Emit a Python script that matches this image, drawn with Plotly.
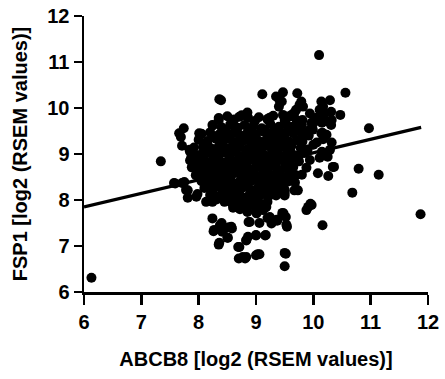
import plotly.graph_objects as go

# ---- dense core of the cloud (rows) ----
core_x = [
    8.35, 8.50, 8.62, 8.75, 8.86, 8.98, 9.05, 9.20, 9.30,
    8.25, 8.40, 8.55, 8.68, 8.80, 8.95, 9.10, 9.25, 9.40, 9.55, 9.70,
    8.05, 8.20, 8.35, 8.48, 8.60, 8.72, 8.85, 9.00, 9.12, 9.25, 9.38, 9.52, 9.65, 9.80,
    8.00, 8.15, 8.30, 8.42, 8.55, 8.68, 8.80, 8.92, 9.05, 9.18, 9.30, 9.45, 9.58, 9.72,
    7.92, 8.08, 8.22, 8.35, 8.48, 8.60, 8.72, 8.85, 8.98, 9.10, 9.22, 9.35, 9.48, 9.62, 9.78,
    7.90, 8.02, 8.15, 8.28, 8.40, 8.52, 8.65, 8.78, 8.90, 9.02, 9.15, 9.28, 9.40, 9.55, 9.70, 9.85,
    7.85, 7.98, 8.10, 8.22, 8.35, 8.47, 8.60, 8.72, 8.85, 8.97, 9.10, 9.22, 9.35, 9.48, 9.60, 9.75,
    7.88, 8.00, 8.12, 8.25, 8.38, 8.50, 8.63, 8.75, 8.88, 9.00, 9.12, 9.25, 9.38, 9.50, 9.65,
    7.95, 8.08, 8.20, 8.32, 8.45, 8.58, 8.70, 8.82, 8.95, 9.08, 9.20, 9.32, 9.45, 9.58, 9.70,
    8.05, 8.18, 8.30, 8.42, 8.55, 8.68, 8.80, 8.92, 9.05, 9.18, 9.30, 9.42, 9.55, 9.68,
    8.10, 8.25, 8.38, 8.50, 8.62, 8.75, 8.88, 9.00, 9.12, 9.25, 9.38, 9.50,
    8.20, 8.35, 8.48, 8.60, 8.72, 8.85, 8.98, 9.10, 9.22, 9.35,
    8.45, 8.58, 8.70, 8.82, 8.95, 9.08, 9.20,
    8.60, 8.72, 8.85, 9.00, 9.15,
]
core_y = [
    9.78, 9.82, 9.75, 9.84, 9.79, 9.72, 9.80, 9.76, 9.83,
    9.62, 9.58, 9.64, 9.57, 9.63, 9.60, 9.56, 9.65, 9.59, 9.61, 9.55,
    9.44, 9.47, 9.42, 9.48, 9.45, 9.41, 9.46, 9.43, 9.49, 9.44, 9.42, 9.47, 9.45, 9.43,
    9.31, 9.28, 9.33, 9.29, 9.32, 9.27, 9.30, 9.34, 9.28, 9.31, 9.29, 9.33, 9.27, 9.30,
    9.14, 9.17, 9.12, 9.16, 9.13, 9.18, 9.15, 9.11, 9.16, 9.14, 9.17, 9.12, 9.15, 9.18, 9.13,
    9.01, 8.98, 9.03, 8.97, 9.02, 8.99, 9.04, 8.96, 9.01, 9.03, 8.98, 9.02, 8.99, 9.01, 8.97, 9.02,
    8.86, 8.83, 8.87, 8.84, 8.88, 8.82, 8.85, 8.87, 8.83, 8.86, 8.84, 8.88, 8.82, 8.85, 8.87, 8.84,
    8.71, 8.68, 8.72, 8.69, 8.73, 8.67, 8.70, 8.72, 8.68, 8.71, 8.69, 8.73, 8.67, 8.70, 8.72,
    8.54, 8.57, 8.53, 8.56, 8.52, 8.55, 8.58, 8.54, 8.56, 8.53, 8.57, 8.55, 8.52, 8.56, 8.54,
    8.41, 8.38, 8.42, 8.39, 8.43, 8.37, 8.40, 8.42, 8.38, 8.41, 8.39, 8.43, 8.40, 8.38,
    8.26, 8.23, 8.27, 8.24, 8.22, 8.26, 8.25, 8.23, 8.27, 8.24, 8.26, 8.22,
    8.11, 8.08, 8.12, 8.09, 8.11, 8.07, 8.10, 8.12, 8.08, 8.10,
    7.96, 7.93, 7.97, 7.94, 7.95, 7.92, 7.96,
    7.83, 7.80, 7.84, 7.81, 7.82,
]

# ---- extra points filling the gaps inside the core ----
fill_x = [
    8.42, 8.66, 8.90, 9.15, 9.32,
    8.25, 8.48, 8.74, 8.98, 9.24, 9.50,
    8.15, 8.41, 8.66, 8.92, 9.16, 9.42,
    8.09, 8.34, 8.58, 8.84, 9.08, 9.34, 9.60,
    8.04, 8.28, 8.54, 8.79, 9.04, 9.29, 9.54,
    8.06, 8.31, 8.56, 8.81, 9.06, 9.31, 9.56,
    8.14, 8.39, 8.64, 8.89, 9.14, 9.39, 9.62,
    8.24, 8.49, 8.74, 8.99, 9.24, 9.49,
    8.31, 8.56, 8.81, 9.06, 9.31,
    8.42, 8.66, 8.92, 9.16,
    8.52, 8.78, 9.02,
]
fill_y = [
    9.52, 9.53, 9.51, 9.52, 9.54,
    9.37, 9.38, 9.36, 9.37, 9.38, 9.36,
    9.22, 9.23, 9.21, 9.22, 9.23, 9.21,
    9.07, 9.08, 9.06, 9.07, 9.08, 9.06, 9.07,
    8.92, 8.93, 8.91, 8.92, 8.93, 8.91, 8.92,
    8.77, 8.78, 8.76, 8.77, 8.78, 8.76, 8.77,
    8.62, 8.63, 8.61, 8.62, 8.63, 8.61, 8.62,
    8.47, 8.48, 8.46, 8.47, 8.48, 8.46,
    8.32, 8.33, 8.31, 8.32, 8.33,
    8.17, 8.18, 8.16, 8.17,
    8.02, 8.03, 8.01,
]

# ---- scattered points around the core ----
outer_x = [
    6.13, 7.34, 11.87, 11.14, 10.97, 10.79, 10.68, 10.10, 10.56, 10.47,
    10.16, 10.08, 10.26, 10.36, 9.95, 9.91, 9.88, 9.50, 9.52, 9.48,
    9.52, 9.54, 9.03, 9.06, 8.70, 8.81, 8.69, 8.83, 8.86, 9.00,
    9.16, 8.35, 8.51, 8.26, 8.37, 8.43, 8.58, 8.24, 8.87, 9.06,
    9.27, 9.37, 9.24, 9.12, 9.01, 9.50, 9.67, 9.73, 8.13, 8.24,
    8.31, 7.81, 7.81, 7.98, 7.59, 7.75, 7.71, 7.69, 7.66, 7.74,
    8.01, 7.85, 8.36, 8.39, 8.24, 8.35, 9.11, 9.35, 9.47, 9.41,
    9.40, 9.72, 9.79, 9.82, 10.14, 10.17, 10.29, 10.14, 10.20, 10.11,
    10.31, 10.26, 10.31, 10.14, 10.23, 10.17, 9.94, 10.00, 9.94, 9.47,
    9.53, 9.62, 9.70, 9.21, 9.45, 9.67, 9.58, 9.81, 10.06, 9.97,
    10.15, 10.32, 9.85, 9.99, 10.16, 9.81, 10.06, 10.32, 10.15, 10.29,
    9.76, 9.94, 10.11, 10.25, 9.64, 9.46, 9.36, 9.90, 10.00, 9.88,
    9.80, 9.92, 7.84, 7.87, 7.57, 7.71, 7.78, 7.96, 9.76, 8.13,
    8.71, 8.85, 8.97, 9.24, 9.50, 9.71, 9.64, 9.80, 8.40, 8.57,
    8.89, 9.24, 9.36, 9.46, 9.53, 9.50, 9.71, 8.85, 9.18, 8.74,
    8.27, 8.41, 8.53, 8.50, 8.36, 8.71, 8.83, 8.77, 8.83, 9.00,
    9.00, 9.17, 9.20, 9.46, 9.50, 9.97, 10.34,
]
outer_y = [
    6.31, 8.84, 7.69, 8.55, 9.56, 8.68, 8.16, 11.15, 10.33, 9.85,
    7.45, 8.58, 8.52, 8.72, 7.92, 7.85, 7.78, 6.56, 6.83, 7.71,
    7.63, 7.42, 6.82, 6.82, 6.73, 6.73, 6.98, 7.12, 7.20, 7.23,
    7.23, 7.03, 7.18, 7.32, 7.45, 7.34, 7.38, 7.60, 7.52, 7.50,
    7.49, 7.55, 7.60, 7.78, 7.71, 8.10, 8.21, 8.21, 7.96, 7.96,
    8.01, 8.05, 8.21, 8.13, 8.36, 8.39, 9.18, 9.37, 9.45, 9.56,
    9.45, 9.05, 10.19, 10.17, 9.63, 9.74, 10.30, 10.25, 10.34, 10.17,
    10.03, 10.32, 10.14, 10.03, 10.14, 10.03, 10.17, 9.81, 9.88, 9.96,
    9.92, 9.70, 9.63, 9.45, 9.42, 9.32, 9.88, 9.67, 9.53, 9.85,
    9.78, 9.85, 9.96, 9.74, 10.14, 9.90, 9.81, 9.74, 9.79, 9.68,
    9.68, 9.74, 9.48, 9.53, 9.46, 9.27, 9.25, 9.25, 9.05, 9.09,
    8.98, 8.87, 8.92, 8.94, 8.51, 8.29, 8.16, 9.10, 9.20, 8.70,
    8.55, 9.40, 9.09, 8.92, 8.37, 8.37, 8.22, 8.07, 10.07, 9.16,
    9.81, 9.90, 9.70, 9.79, 9.74, 9.74, 9.59, 9.64, 7.50, 7.42,
    7.52, 7.63, 7.57, 7.72, 7.46, 8.16, 8.22, 7.74, 7.85, 7.83,
    7.35, 7.31, 7.41, 7.18, 7.07, 6.98, 7.13, 6.76, 6.76, 6.80,
    7.24, 7.24, 7.61, 7.68, 6.85, 7.89, 8.72,
]

assert len(core_x) == len(core_y)
assert len(fill_x) == len(fill_y)
assert len(outer_x) == len(outer_y)

# regression line
reg_slope = 0.294
reg_intercept = 6.086
reg_x = [6.0, 11.88]

x_ticks = [6, 7, 8, 9, 10, 11, 12]
y_ticks = [6, 7, 8, 9, 10, 11, 12]

all_x = core_x + fill_x + outer_x
all_y = core_y + fill_y + outer_y
line_y = [reg_intercept + reg_slope * v for v in reg_x]

fig = go.Figure()
fig.add_trace(go.Scatter(
    x=all_x, y=all_y, mode="markers",
    marker=dict(color="black", size=10, line=dict(width=0)),
    showlegend=False, cliponaxis=False, hoverinfo="skip",
))
fig.add_trace(go.Scatter(
    x=reg_x, y=line_y, mode="lines",
    line=dict(color="black", width=3.2),
    showlegend=False, cliponaxis=False, hoverinfo="skip",
))

FAM = "Liberation Sans, Arial, sans-serif"
axis_font = dict(family=FAM, size=20, color="black", weight="bold")
title_font = dict(family=FAM, size=20, color="black", weight="bold")

fig.update_layout(
    width=445, height=379,
    margin=dict(l=84, r=17, t=16, b=87),
    paper_bgcolor="white", plot_bgcolor="white",
    font=dict(family=FAM, color="black"),
)
fig.update_xaxes(
    range=[6, 12], tickvals=x_ticks, ticktext=[f"<b>{t}</b>" for t in x_ticks],
    showgrid=False, zeroline=False, showline=True, linecolor="black", linewidth=2.5,
    ticks="outside", ticklen=10, tickwidth=2.5, tickcolor="black",
    tickfont=axis_font, automargin=False, ticklabeloverflow="allow",
    title=dict(text="<b>ABCB8 [log2 (RSEM values)]</b>", font=title_font, standoff=21),
)
fig.update_yaxes(
    range=[6, 12], tickvals=y_ticks, ticktext=[f"<b>{t}</b>" for t in y_ticks],
    showgrid=False, zeroline=False, showline=True, linecolor="black", linewidth=2.5,
    ticks="outside", ticklen=8, tickwidth=2.5, tickcolor="black",
    tickfont=axis_font, automargin=False, ticklabeloverflow="allow",
    title=dict(text="<b>FSP1 [log2 (RSEM values)]</b>", font=title_font, standoff=15),
)

# remove the default page margin so the 445x379 figure fills the window exactly
fig.write_html(
    "out.html",
    config={"displayModeBar": False, "staticPlot": True},
    post_script="document.body.style.margin='0';",
)
